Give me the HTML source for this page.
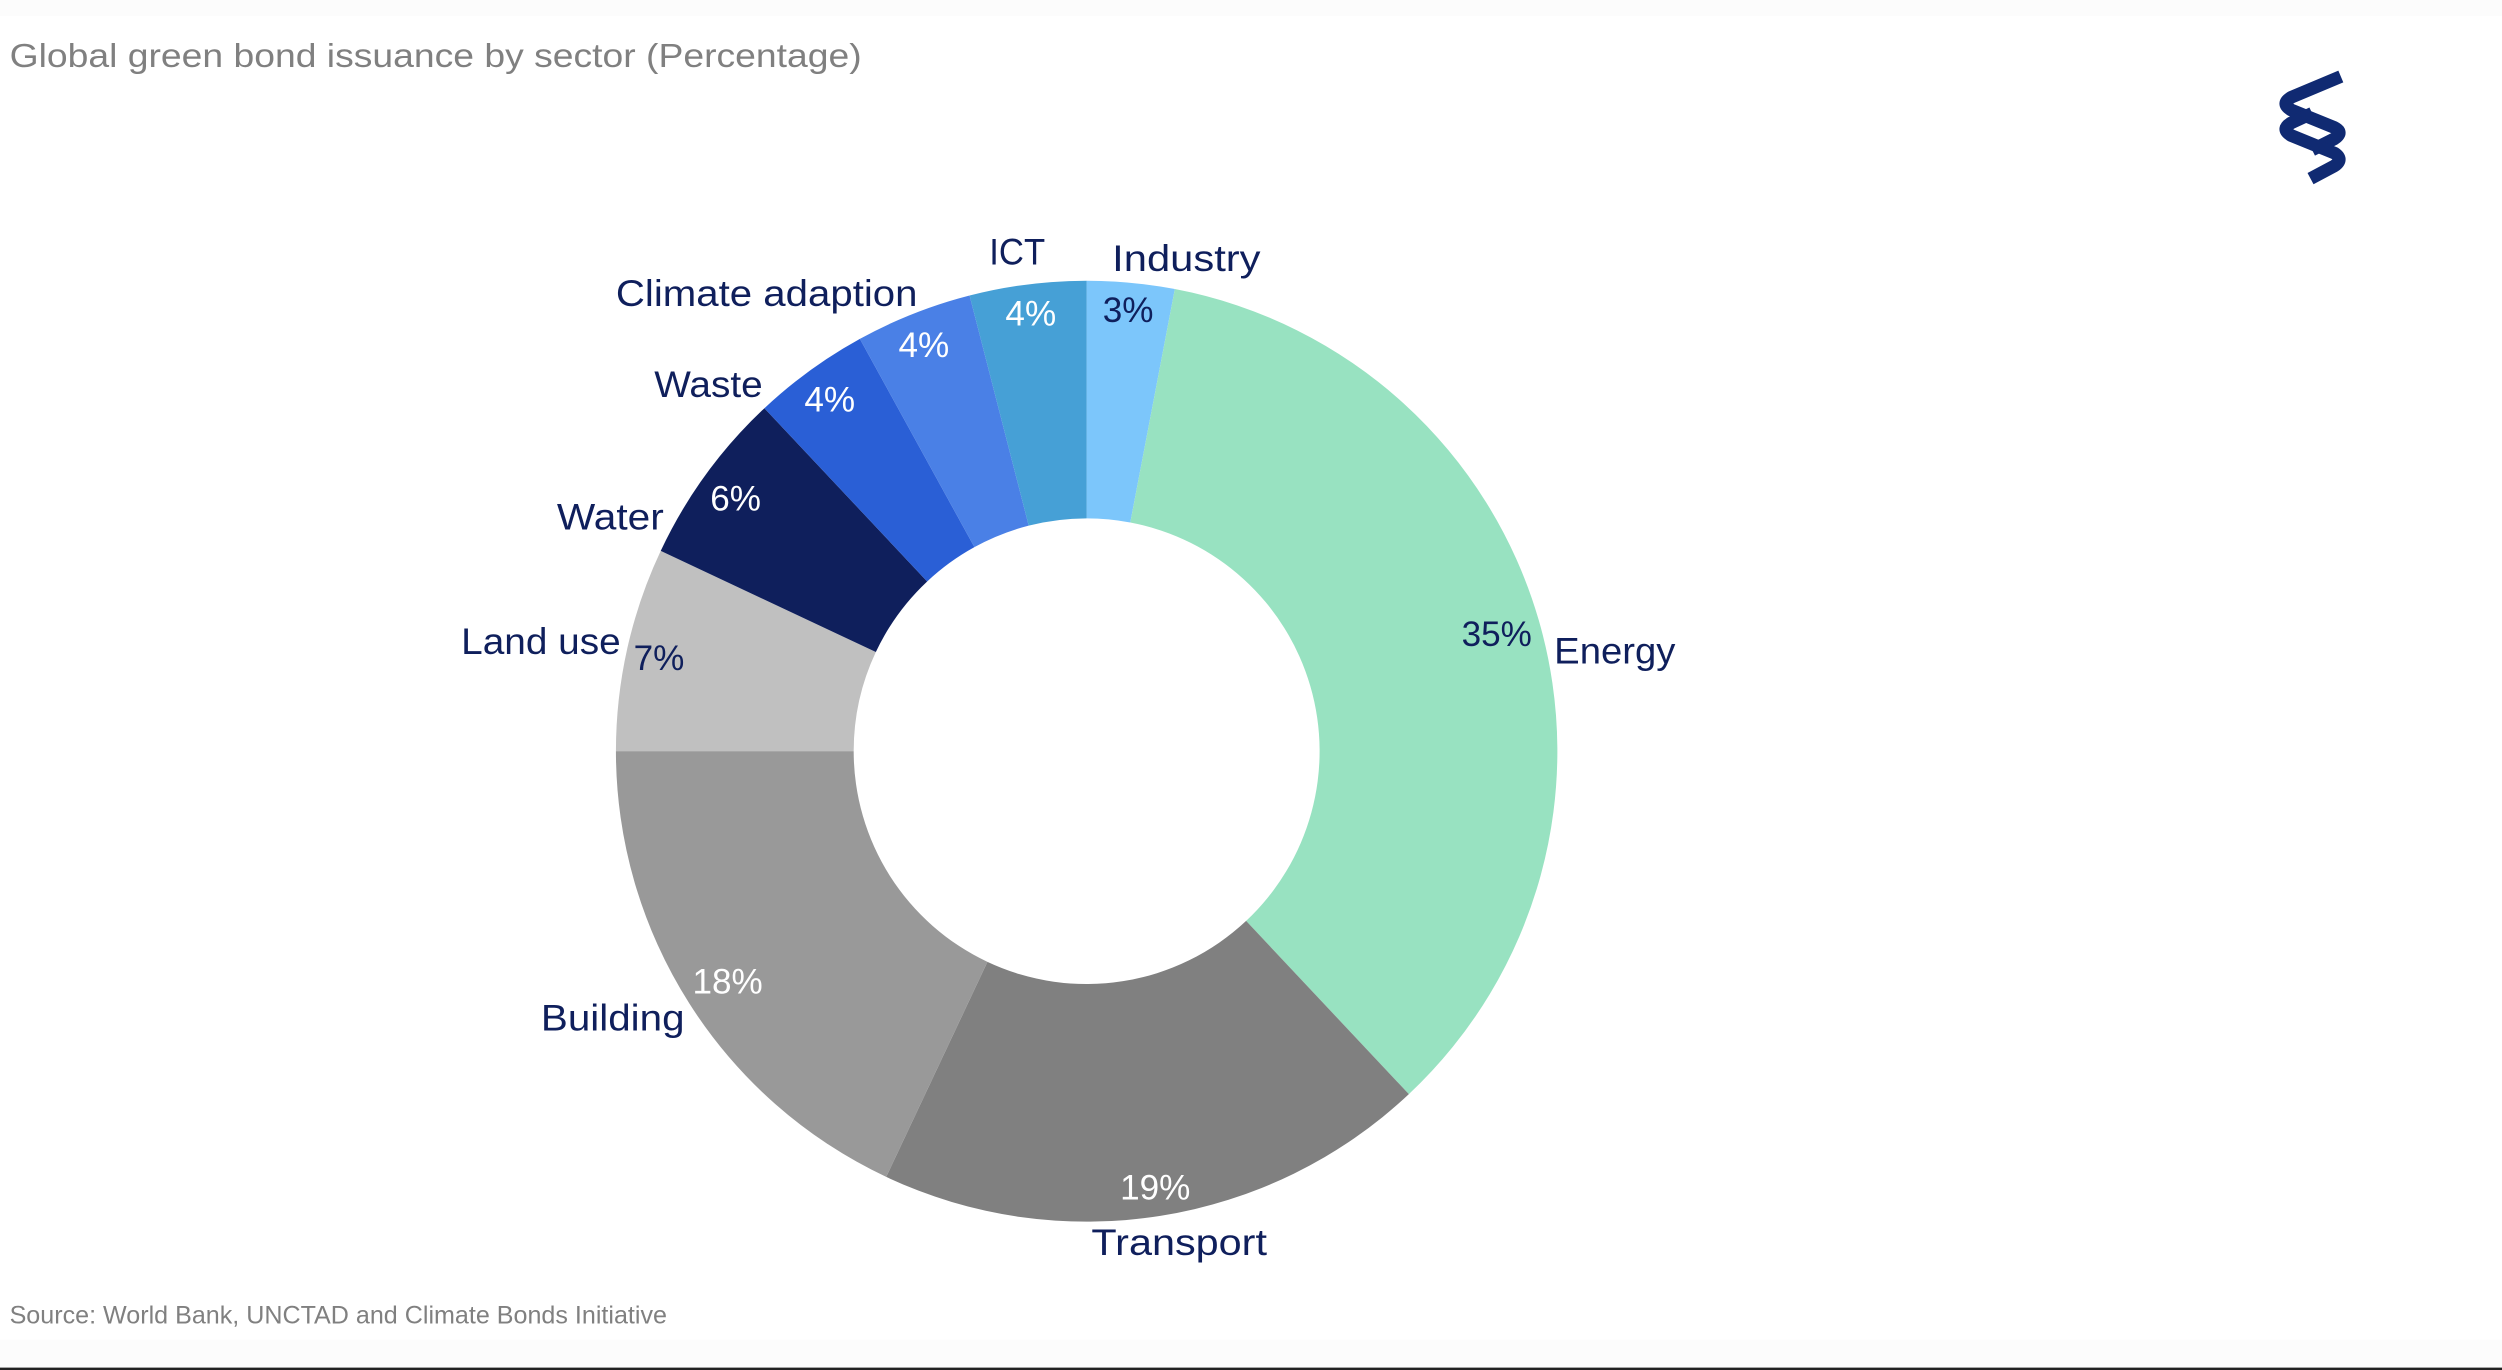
<!DOCTYPE html>
<html><head><meta charset="utf-8"><style>
html,body{margin:0;padding:0;background:#fff;}
svg{display:block;}
</style></head><body>
<svg id="s" width="2502" height="1370" viewBox="0 0 1568 859" preserveAspectRatio="none" xmlns="http://www.w3.org/2000/svg">
<rect x="0" y="0" width="1568" height="859" fill="#fff"/>
<rect x="0" y="0" width="1568" height="10" fill="#fcfcfc"/>
<rect x="0" y="840" width="1568" height="18" fill="#fcfcfc"/>
<rect x="0" y="857.5" width="1568" height="1.5" fill="#222"/>
<g id="pie"></g>
<text x="6" y="42" font-family="Liberation Sans, sans-serif" font-size="21" fill="#808080" textLength="534" lengthAdjust="spacingAndGlyphs">Global green bond issuance by sector (Percentage)</text>
<text x="6" y="830" font-family="Liberation Sans, sans-serif" font-size="15.5" fill="#808080" textLength="412" lengthAdjust="spacingAndGlyphs">Source: World Bank, UNCTAD and Climate Bonds Initiative</text>
<g fill="none" stroke="#102a72" stroke-width="8" stroke-linejoin="round">
<path d="M1467 48 L1436 61 Q1429 65 1436 69 L1463 80 Q1469 83 1463 87 L1449 94"/>
<path d="M1449 71 L1436 77 Q1429 81 1436 85 L1463 96 Q1469 100 1463 104 L1448 112"/>
</g>
<g font-family="Liberation Sans, sans-serif" font-size="23" fill="#0f1f5c" lengthAdjust="spacingAndGlyphs">
<text x="697" y="170" textLength="93" lengthAdjust="spacingAndGlyphs">Industry</text>
<text x="620" y="166" textLength="35" lengthAdjust="spacingAndGlyphs">ICT</text>
<text x="386" y="192" textLength="189" lengthAdjust="spacingAndGlyphs">Climate adaption</text>
<text x="410" y="249" textLength="68" lengthAdjust="spacingAndGlyphs">Waste</text>
<text x="349" y="332" textLength="67" lengthAdjust="spacingAndGlyphs">Water</text>
<text x="289" y="410" textLength="100" lengthAdjust="spacingAndGlyphs">Land use</text>
<text x="339" y="646" textLength="90" lengthAdjust="spacingAndGlyphs">Building</text>
<text x="684" y="787" textLength="110" lengthAdjust="spacingAndGlyphs">Transport</text>
<text x="974" y="416" textLength="76" lengthAdjust="spacingAndGlyphs">Energy</text>
</g>
<g font-family="Liberation Sans, sans-serif" font-size="22" text-anchor="middle">
<text x="707" y="202" fill="#0f1f5c">3%</text>
<text x="646" y="204" fill="#fff">4%</text>
<text x="579" y="224" fill="#fff">4%</text>
<text x="520" y="258" fill="#fff">4%</text>
<text x="461" y="320" fill="#fff">6%</text>
<text x="413" y="420" fill="#0f1f5c">7%</text>
<text x="456" y="623" fill="#fff">18%</text>
<text x="724" y="752" fill="#fff">19%</text>
<text x="938" y="405" fill="#0f1f5c">35%</text>
</g>
</svg>
<script>
(function(){
var cx=681,cy=471,R=295,r=146;
var d=[[3,"#7cc6fb"],[35,"#98e2c1"],[19,"#808080"],[18,"#999999"],[7,"#c0c0c0"],[6,"#0f1f5c"],[4,"#2a5fd6"],[4,"#4a80e6"],[4,"#46a0d6"]];
var g=document.getElementById("pie"),a=0,ns="http://www.w3.org/2000/svg";
function p(rad,ang){var t=ang/100*2*Math.PI;return [cx+rad*Math.sin(t),cy-rad*Math.cos(t)];}
d.forEach(function(s){
var b=a+s[0],lg=s[0]>50?1:0;
var p1=p(R,a),p2=p(R,b),p3=p(r,b),p4=p(r,a);
var path=document.createElementNS(ns,"path");
path.setAttribute("d","M"+p1+" A"+R+" "+R+" 0 "+lg+" 1 "+p2+" L"+p3+" A"+r+" "+r+" 0 "+lg+" 0 "+p4+"Z");
path.setAttribute("fill",s[1]);
g.appendChild(path);a=b;});
})();
</script>
</body></html>
